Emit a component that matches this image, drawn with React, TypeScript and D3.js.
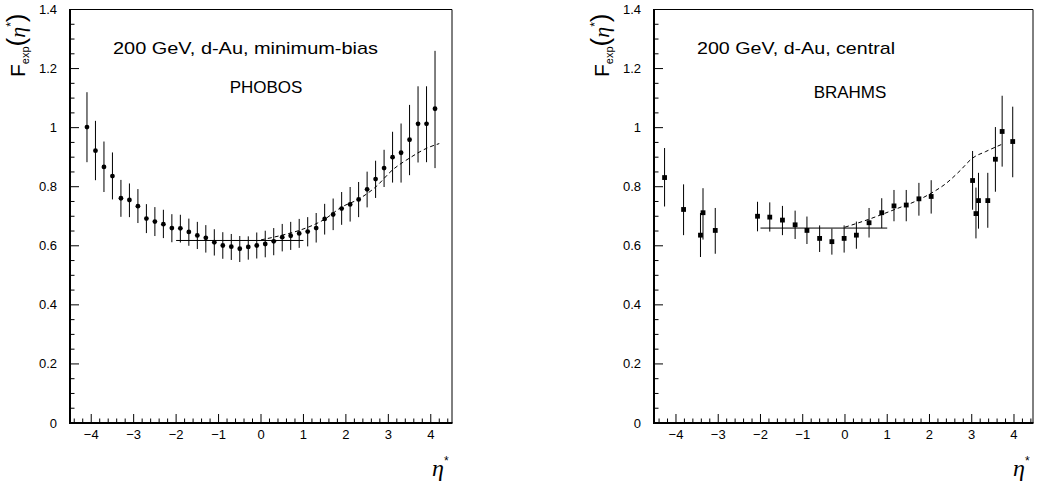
import React from "react";
import * as d3 from "d3";

// ---------- data ----------
const phobosEta = [-4.1, -3.9, -3.7, -3.5, -3.3, -3.1, -2.9, -2.7, -2.5, -2.3, -2.1, -1.9, -1.7, -1.5, -1.3, -1.1, -0.9, -0.7, -0.5, -0.3, -0.1, 0.1, 0.3, 0.5, 0.7, 0.9, 1.1, 1.3, 1.5, 1.7, 1.9, 2.1, 2.3, 2.5, 2.7, 2.9, 3.1, 3.3, 3.5, 3.7, 3.9, 4.1];
const phobosVal = [1.002, 0.922, 0.867, 0.836, 0.761, 0.755, 0.734, 0.692, 0.682, 0.673, 0.66, 0.659, 0.647, 0.635, 0.627, 0.612, 0.601, 0.597, 0.59, 0.596, 0.601, 0.606, 0.615, 0.629, 0.634, 0.642, 0.648, 0.66, 0.691, 0.706, 0.726, 0.74, 0.757, 0.791, 0.826, 0.863, 0.9, 0.915, 0.959, 1.013, 1.013, 1.064];
const phobosLo = [0.883, 0.822, 0.782, 0.757, 0.698, 0.697, 0.677, 0.643, 0.633, 0.626, 0.612, 0.611, 0.6, 0.589, 0.577, 0.567, 0.556, 0.552, 0.545, 0.553, 0.557, 0.561, 0.568, 0.581, 0.586, 0.593, 0.598, 0.611, 0.638, 0.653, 0.671, 0.682, 0.697, 0.73, 0.762, 0.799, 0.814, 0.814, 0.839, 0.882, 0.883, 0.863];
const phobosHi = [1.12, 1.023, 0.953, 0.916, 0.823, 0.811, 0.792, 0.741, 0.731, 0.722, 0.707, 0.705, 0.692, 0.681, 0.67, 0.656, 0.646, 0.64, 0.633, 0.632, 0.645, 0.651, 0.66, 0.674, 0.681, 0.691, 0.697, 0.711, 0.742, 0.76, 0.782, 0.799, 0.816, 0.851, 0.888, 0.925, 0.986, 1.014, 1.077, 1.14, 1.14, 1.26];
const phobosFlatRange = [-2, 1];
const phobosFlatValue = 0.618;
const phobosDashEta = [0, 0.5, 0.9, 1.5, 1.9, 2.3, 2.7, 3.1, 3.5, 3.9, 4.2];
const phobosDashVal = [0.62, 0.636, 0.652, 0.69, 0.731, 0.758, 0.799, 0.857, 0.897, 0.93, 0.946];

const brahmsEta = [-4.27, -3.82, -3.42, -3.36, -3.07, -2.07, -1.78, -1.48, -1.18, -0.9, -0.6, -0.31, -0.02, 0.27, 0.57, 0.87, 1.16, 1.45, 1.75, 2.04, 3.02, 3.1, 3.16, 3.38, 3.56, 3.72, 3.97];
const brahmsVal = [0.831, 0.723, 0.636, 0.712, 0.652, 0.7, 0.697, 0.687, 0.671, 0.652, 0.625, 0.614, 0.625, 0.636, 0.678, 0.712, 0.735, 0.738, 0.759, 0.767, 0.821, 0.709, 0.753, 0.753, 0.893, 0.987, 0.953];
const brahmsLo = [0.733, 0.636, 0.562, 0.621, 0.573, 0.649, 0.648, 0.636, 0.623, 0.606, 0.579, 0.57, 0.577, 0.59, 0.628, 0.66, 0.683, 0.683, 0.702, 0.709, 0.722, 0.625, 0.658, 0.661, 0.783, 0.868, 0.832];
const brahmsHi = [0.931, 0.808, 0.711, 0.795, 0.728, 0.749, 0.747, 0.735, 0.719, 0.699, 0.669, 0.658, 0.669, 0.682, 0.728, 0.761, 0.789, 0.789, 0.813, 0.822, 0.921, 0.797, 0.847, 0.847, 1.002, 1.108, 1.071];
const brahmsFlatRange = [-2, 1];
const brahmsFlatValue = 0.66;
const brahmsDashEta = [0, 0.57, 1.16, 1.75, 2.04, 2.4, 2.7, 3.02, 3.33, 3.72];
const brahmsDashVal = [0.663, 0.69, 0.722, 0.756, 0.778, 0.812, 0.851, 0.897, 0.919, 0.944];

const xTickLabels = [-4, -3, -2, -1, 0, 1, 2, 3, 4];
const yTickLabels = [0, 0.2, 0.4, 0.6, 0.8, 1, 1.2, 1.4];

const FONT = "'Liberation Sans', Arial, Helvetica, sans-serif";

type PanelProps = {
  x0: number;
  x1: number;
  domain: [number, number];
  eta: number[];
  val: number[];
  lo: number[];
  hi: number[];
  flatRange: number[];
  flatValue: number;
  dashEta: number[];
  dashVal: number[];
  marker: "circle" | "square";
  title: string;
  titleX: number;
  titleLen: number;
  exp: string;
  expX: number;
};

function Panel(p: PanelProps) {
  const yTop = 9.5;
  const yBot = 423;
  const x = d3.scaleLinear().domain(p.domain).range([p.x0, p.x1]);
  const y = d3.scaleLinear().domain([0, 1.4]).range([yBot, yTop]);

  const xMinor = d3.range(Math.ceil(p.domain[0] * 5), Math.floor(p.domain[1] * 5) + 1).map((k) => k / 5);
  const yMinor = d3.range(0, 29).map((k) => k / 20);

  const dashLine = d3
    .line<number>()
    .x((_, i) => x(p.dashEta[i]))
    .y((v) => y(v))
    .curve(d3.curveMonotoneX);

  const fmt = (v: number) => (v < 0 ? "\u2212" + Math.abs(v) : String(v));

  return (
    <g>
      {/* frame */}
      <line x1={p.x0} x2={p.x1} y1={yTop} y2={yTop} stroke="#000" strokeWidth={1} />
      <line x1={p.x1} x2={p.x1} y1={yTop} y2={yBot} stroke="#000" strokeWidth={1} />
      <line x1={p.x0} x2={p.x1 + 0.5} y1={yBot} y2={yBot} stroke="#000" strokeWidth={2} />
      <line x1={p.x0} x2={p.x0} y1={yTop - 0.5} y2={yBot + 1} stroke="#000" strokeWidth={2} />

      {/* x ticks */}
      {xMinor.map((t) => {
        const major = Math.abs(t - Math.round(t)) < 1e-6;
        return (
          <line key={"xt" + t} x1={x(t)} x2={x(t)} y1={yBot} y2={yBot - (major ? 9 : 4.5)} stroke="#000" strokeWidth={1} />
        );
      })}
      {xTickLabels.map((t) => (
        <text key={"xl" + t} x={x(t)} y={439} textAnchor="middle" fontSize={13} fontFamily={FONT} fill="#000">
          {fmt(t)}
        </text>
      ))}

      {/* y ticks */}
      {yMinor.map((t, i) => {
        const major = i % 4 === 0;
        return (
          <line key={"yt" + i} x1={p.x0} x2={p.x0 + (major ? 9 : 4.5)} y1={y(t)} y2={y(t)} stroke="#000" strokeWidth={1} />
        );
      })}
      {yTickLabels.map((t) => (
        <text key={"yl" + t} x={p.x0 - 13} y={y(t) + 4.5} textAnchor="end" fontSize={13} fontFamily={FONT} fill="#000">
          {String(t)}
        </text>
      ))}

      {/* flat line */}
      <line x1={x(p.flatRange[0])} x2={x(p.flatRange[1])} y1={y(p.flatValue)} y2={y(p.flatValue)} stroke="#000" strokeWidth={1} />

      {/* dashed fit */}
      <path d={dashLine(p.dashVal) || ""} fill="none" stroke="#000" strokeWidth={1} strokeDasharray="4,3" />

      {/* error bars */}
      {p.eta.map((e, i) => (
        <line key={"eb" + i} x1={x(e)} x2={x(e)} y1={y(p.lo[i])} y2={y(p.hi[i])} stroke="#000" strokeWidth={1} />
      ))}
      {/* markers */}
      {p.eta.map((e, i) =>
        p.marker === "circle" ? (
          <circle key={"m" + i} cx={x(e)} cy={y(p.val[i])} r={2.4} fill="#000" />
        ) : (
          <rect key={"m" + i} x={x(e) - 2.4} y={y(p.val[i]) - 2.4} width={4.8} height={4.8} fill="#000" />
        )
      )}

      {/* texts */}
      <text x={p.titleX} y={54} fontSize={17} fontFamily={FONT} textLength={p.titleLen} lengthAdjust="spacingAndGlyphs" fill="#000">
        {p.title}
      </text>
      <text x={p.expX} y={p.exp === "PHOBOS" ? 93 : 98} textAnchor="middle" fontSize={17} fontFamily={FONT} fill="#000">
        {p.exp}
      </text>

      {/* y axis label */}
      <text transform={`translate(${p.x0 - 45},77) rotate(-90)`} fontFamily={FONT} fill="#000">
        <tspan fontSize={21}>F</tspan>
        <tspan fontSize={11} dy={4}>exp</tspan>
        <tspan fontSize={26} dy={-4} fontWeight={100}>(</tspan>
        <tspan fontSize={22} fontStyle="italic" fontFamily="'Liberation Serif', serif">η</tspan>
        <tspan fontSize={12} dy={-10}>*</tspan>
        <tspan fontSize={26} dy={10} fontWeight={100}>)</tspan>
      </text>

      {/* x axis label */}
      <text x={p.x1 - 20} y={476} fontFamily="'Liberation Serif', serif" fill="#000">
        <tspan fontSize={24} fontStyle="italic">η</tspan>
        <tspan fontSize={12} dy={-11} fontFamily={FONT}>*</tspan>
      </text>
    </g>
  );
}

export default function App() {
  return (
    <svg
      width={1037}
      height={483}
      viewBox="0 0 1037 483"
      style={{ position: "absolute", left: 0, top: 0, background: "#fff" }}
    >
      <rect x={0} y={0} width={1037} height={483} fill="#fff" />
      <Panel
        x0={70}
        x1={452}
        domain={[-4.5, 4.5]}
        eta={phobosEta}
        val={phobosVal}
        lo={phobosLo}
        hi={phobosHi}
        flatRange={phobosFlatRange}
        flatValue={phobosFlatValue}
        dashEta={phobosDashEta}
        dashVal={phobosDashVal}
        marker="circle"
        title="200 GeV, d-Au, minimum-bias"
        titleX={113}
        titleLen={265}
        exp="PHOBOS"
        expX={266}
      />
      <Panel
        x0={654}
        x1={1033}
        domain={[-4.52, 4.45]}
        eta={brahmsEta}
        val={brahmsVal}
        lo={brahmsLo}
        hi={brahmsHi}
        flatRange={brahmsFlatRange}
        flatValue={brahmsFlatValue}
        dashEta={brahmsDashEta}
        dashVal={brahmsDashVal}
        marker="square"
        title="200 GeV, d-Au, central"
        titleX={697}
        titleLen={198}
        exp="BRAHMS"
        expX={850}
      />
    </svg>
  );
}
